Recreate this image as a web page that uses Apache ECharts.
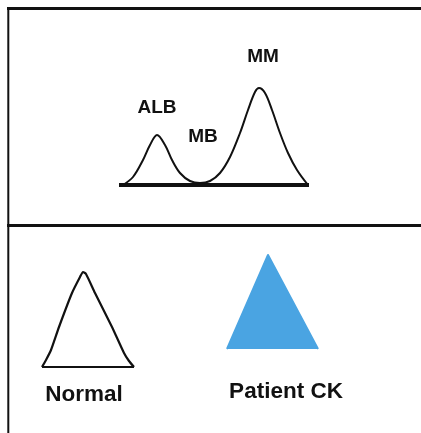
<!DOCTYPE html>
<html>
<head>
<meta charset="utf-8">
<script src="https://cdn.jsdelivr.net/npm/echarts@6/dist/echarts.min.js"></script>
<style>
  html, body { margin: 0; padding: 0; background: #ffffff; }
  #chart { width: 421px; height: 433px; }
</style>
</head>
<body>
<div id="chart"></div>
<script>
// Electrophoretic scan: relative absorbance along the migration distance
const mobility   = [3, 13, 23, 30, 37, 45, 52, 60, 70, 80, 90, 100, 110, 120, 128, 135, 139, 145, 152, 160, 168, 177, 188];
const absorbance = [0, 8, 25, 40, 50, 40, 25, 12, 4, 2, 4, 12, 28, 52, 75, 93, 97, 92, 75, 52, 32, 15, 0];
const baselineX  = [-1, 189];

// Named bands on the scan
const bandNames    = ['ALB', 'MB', 'MM'];
const bandMobility = [37, 80, 139];
const bandHeight   = [50, 2, 97];

// Band shapes compared below the scan
const normalX  = [0, 4, 9, 17, 30, 38, 41, 44, 53, 70, 82, 87, 92];
const normalY  = [0, 7, 17, 40, 74, 90, 95, 93, 74, 40, 14, 6, 0];
const patientX = [0, 41, 91];
const patientY = [0, 94, 0];
const captions = ['Normal', 'Patient CK'];

const zip = (xs, ys) => xs.map((x, i) => [x, ys[i]]);
const FONT = '"Liberation Sans", Arial, Helvetica, sans-serif';
const INK = '#111111';
const BLUE = '#4aa4e2';

const hiddenAxis = (idx, min, max) => ({
  type: 'value', gridIndex: idx, min: min, max: max, show: false
});

const labelOffsets = [[0, -27], [3, -46], [4, -31]];

const chart = echarts.init(document.getElementById('chart'), null, { renderer: 'canvas' });

chart.setOption({
  animation: false,
  backgroundColor: '#ffffff',
  grid: [
    { left: 120, top: 85, width: 190, height: 100 },
    { left: 42, top: 267, width: 100, height: 100 },
    { left: 227, top: 249, width: 100, height: 100 }
  ],
  xAxis: [hiddenAxis(0, 0, 190), hiddenAxis(1, 0, 100), hiddenAxis(2, 0, 100)],
  yAxis: [hiddenAxis(0, 0, 100), hiddenAxis(1, 0, 100), hiddenAxis(2, 0, 100)],
  series: [
    {
      type: 'line', xAxisIndex: 0, yAxisIndex: 0,
      data: zip(baselineX, [0, 0]),
      showSymbol: false, silent: true,
      lineStyle: { color: INK, width: 4, cap: 'butt' }
    },
    {
      type: 'line', xAxisIndex: 0, yAxisIndex: 0,
      data: zip(mobility, absorbance),
      smooth: 0.35, showSymbol: false, silent: true,
      lineStyle: { color: INK, width: 2 }
    },
    {
      type: 'scatter', xAxisIndex: 0, yAxisIndex: 0,
      data: bandNames.map((n, i) => ({
        name: n,
        value: [bandMobility[i], bandHeight[i]],
        label: { offset: labelOffsets[i] }
      })),
      symbolSize: 0, silent: true,
      itemStyle: { opacity: 1 },
      label: {
        show: true, position: 'inside', formatter: '{b}',
        color: INK, opacity: 1, textBorderWidth: 0,
        fontFamily: FONT, fontWeight: 'bold', fontSize: 19
      }
    },
    {
      type: 'line', xAxisIndex: 1, yAxisIndex: 1,
      data: zip(normalX, normalY),
      smooth: 0.2, showSymbol: false, silent: true,
      lineStyle: { color: INK, width: 2.2, join: 'round' }
    },
    {
      type: 'line', xAxisIndex: 1, yAxisIndex: 1,
      data: zip([normalX[0], normalX[normalX.length - 1]], [0, 0]),
      showSymbol: false, silent: true,
      lineStyle: { color: INK, width: 2.2 }
    },
    {
      type: 'line', xAxisIndex: 2, yAxisIndex: 2,
      data: zip(patientX, patientY),
      showSymbol: false, silent: true,
      lineStyle: { color: BLUE, width: 2, join: 'round' },
      areaStyle: { color: BLUE, opacity: 1 }
    }
  ],
  graphic: [
    // panel frame
    { type: 'line', shape: { x1: 7, y1: 8.5, x2: 421, y2: 8.5 }, style: { stroke: INK, lineWidth: 3 } },
    { type: 'line', shape: { x1: 8.3, y1: 7, x2: 8.3, y2: 433 }, style: { stroke: INK, lineWidth: 2 } },
    { type: 'line', shape: { x1: 7, y1: 225.5, x2: 421, y2: 225.5 }, style: { stroke: INK, lineWidth: 3 } },
    {
      type: 'text', x: 84, y: 395,
      style: { text: captions[0], fill: INK, font: 'bold 22.5px ' + FONT, textAlign: 'center', textVerticalAlign: 'middle' }
    },
    {
      type: 'text', x: 286, y: 392,
      style: { text: captions[1], fill: INK, font: 'bold 22.5px ' + FONT, textAlign: 'center', textVerticalAlign: 'middle' }
    }
  ]
});
</script>
</body>
</html>
